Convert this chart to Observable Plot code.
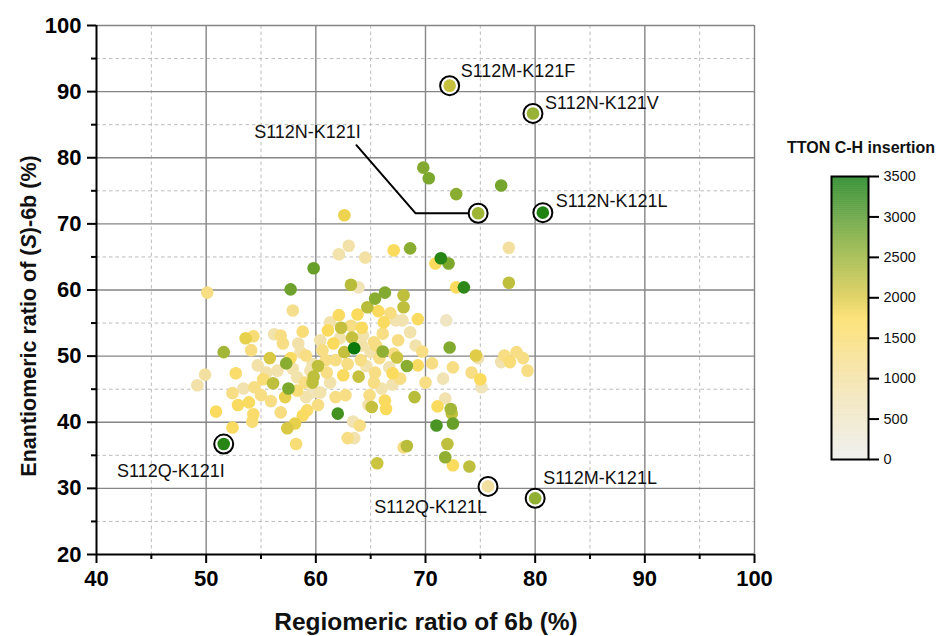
<!DOCTYPE html>
<html><head><meta charset="utf-8">
<script src="https://cdn.jsdelivr.net/npm/d3@7"></script>
<script src="https://cdn.jsdelivr.net/npm/@observablehq/plot@0.6"></script>
<style>
body{margin:0;background:#fff;}
#chart{position:relative;width:939px;height:636px;}
#chart svg{position:absolute;}
</style></head><body><div id="chart"></div>
<script>
// ---- data: regiomeric ratio (%), enantiomeric ratio (%), TTON C-H insertion ----
const regio = [
69.8,70.3,72.8,76.9,62.6,63.0,62.1,64.5,67.1,68.6,
71.4,70.9,72.1,77.6,59.8,57.7,77.6,72.8,73.5,63.2,
63.9,66.3,65.4,68.0,68.0,64.7,50.1,57.9,62.1,63.8,
65.7,66.8,66.2,67.3,67.9,69.3,71.9,61.1,61.3,62.3,
63.2,64.3,63.3,66.1,65.3,61.6,63.5,62.6,66.1,72.2,
69.7,67.4,67.1,65.8,65.0,64.1,61.8,62.9,68.3,69.3,
70.6,72.5,66.7,67.0,63.9,62.5,65.3,67.0,70.0,71.6,
61.3,61.8,69.0,71.8,64.9,66.3,66.4,65.1,64.8,71.1,
72.3,72.4,62.0,63.4,64.0,71.0,72.5,62.9,63.5,68.0,
68.3,72.0,71.8,65.6,72.5,74.0,74.6,74.8,74.2,75.0,
75.1,77.2,76.9,77.7,78.3,78.9,79.3,
53.6,54.3,54.1,51.6,56.2,56.8,57.0,58.8,58.4,58.6,
55.8,52.7,49.9,49.2,55.2,56.1,55.5,56.5,57.3,57.7,
57.9,57.5,58.3,59.7,60.2,59.7,59.8,60.6,52.4,53.4,
54.4,52.9,53.9,55.9,57.2,58.3,59.1,59.7,50.9,54.3,
54.2,59.2,58.8,58.1,57.4,52.4,58.2,59.1,59.5,60.4,
60.9,59.0,60.4,61.0,62.2,64.2,64.6,65.4,67.7,66.0,
60.2,55.0,56.8,62.7,68.6,67.5,69.1,64.2,65.5,54.7
];
const enant = [
78.5,76.9,74.5,75.8,71.3,66.7,65.4,64.9,66.0,66.3,
64.8,64.0,64.0,66.4,63.3,60.1,61.1,60.4,60.4,60.8,
60.4,59.6,58.7,59.2,57.4,57.4,59.6,56.9,56.2,56.3,
56.8,56.5,55.1,55.4,55.4,55.6,55.4,53.9,55.1,54.3,
54.6,53.1,52.8,53.4,52.1,51.9,51.2,50.6,50.7,51.3,
50.7,49.8,50.4,49.7,50.6,49.4,49.4,48.8,48.5,48.6,
48.9,48.3,48.3,47.4,46.9,47.1,46.0,45.7,46.0,46.6,
46.0,43.8,43.8,43.6,44.1,43.3,42.0,42.3,42.6,42.4,
42.0,41.3,41.3,40.1,39.5,39.5,39.8,37.6,37.6,36.2,
36.4,36.7,34.7,33.8,33.5,33.3,50.1,49.7,47.5,46.5,
45.3,50.1,49.1,49.1,50.6,49.7,47.8,
52.7,53.0,50.9,50.6,53.3,53.1,51.9,53.7,51.9,50.6,
49.7,47.4,47.2,45.6,46.5,45.9,47.5,47.8,48.9,49.7,
48.1,45.1,46.8,48.8,48.5,46.0,46.9,50.9,44.4,45.1,
45.3,42.6,43.0,43.2,43.8,44.8,43.8,44.5,41.6,41.2,
40.1,41.8,41.0,39.8,39.1,39.2,36.7,50.1,47.8,52.4,
49.4,46.0,44.5,47.5,52.7,51.6,48.5,47.5,46.6,45.1,
42.6,44.1,41.5,44.1,53.6,52.4,51.6,54.3,51.6,48.6
];
const insertion = [
2650,2700,2600,2750,1850,900,850,950,1700,2600,
3300,1700,2700,1000,2850,2800,2200,1700,3250,2250,
700,2650,2600,2200,2200,2250,1300,1200,1650,1700,
1700,1350,1650,800,800,1650,550,1700,900,2150,
1300,850,2150,1300,1300,1700,3500,2150,2550,2650,
1300,2100,1300,1300,900,1300,1300,1300,2600,1650,
1300,1300,800,1700,2150,1650,1300,800,1300,750,
850,1300,2250,800,1300,1650,1700,2150,850,1700,
2400,2200,3100,750,1300,3050,2850,1300,800,1300,
2250,2200,2550,2100,1700,2200,1950,800,1300,1700,
650,1300,800,1450,1300,1300,1300,
1900,1450,1350,2400,850,1300,1300,1450,900,900,
2000,1550,1000,900,1450,2200,900,850,2600,1650,
850,2700,850,850,2200,2200,2200,1300,1300,800,
1300,1650,1650,1300,1900,1450,850,650,1700,1550,
1450,1550,1650,1900,2000,1650,1450,1300,850,900,
1300,1300,850,1300,850,900,850,1300,1300,850,
1300,1300,1350,1300,850,1300,850,1650,1300,900
];

// highlighted variants
const hlNames = ["S112M-K121F","S112N-K121V","S112N-K121I","S112N-K121L","S112Q-K121I","S112Q-K121L","S112M-K121L"];
const hlRegio = [72.2,79.8,74.8,80.7,51.6,75.7,80.0];
const hlEnant = [90.9,86.7,71.6,71.7,36.7,30.3,28.5];
const hlInsertion = [2150,2500,2450,3350,3300,1000,2550];

// leader line for S112N-K121I (data units)
const leaderRegio = [63.7, 69.1, 74.1];
const leaderEnant = [81.9, 71.6, 71.6];

// ticks
const majorX = [40,50,60,70,80,90,100];
const minorX = [45,55,65,75,85,95];
const majorY = [20,30,40,50,60,70,80,90,100];
const minorY = [25,35,45,55,65,75,85,95];
const colorTicks = [0,500,1000,1500,2000,2500,3000,3500];

// ---- layout / style ----
const labelLayout = {
  "S112M-K121F": {dx: 11, dy: -14, anchor: "start"},
  "S112N-K121V": {dx: 12, dy: -10, anchor: "start"},
  "S112N-K121I": {dx: -224, dy: -81, anchor: "start"},
  "S112N-K121L": {dx: 13, dy: -11, anchor: "start"},
  "S112Q-K121I": {dx: 1, dy: 27, anchor: "end"},
  "S112Q-K121L": {dx: -1, dy: 21, anchor: "end"},
  "S112M-K121L": {dx: 8, dy: -20, anchor: "start"}
};
const rampColors = ["#ECECE9","#EDE9D8","#EFE6C6","#F1E3B4","#F3E0A0","#F6DE8A","#F9DC70","#FBDB58","#D9C843","#B7BD3B","#97B234","#75A52D","#519726","#2D8818","#0B780B"];
const colorScale = () => ({type: "linear", domain: [0, 3500], interpolate: d3.piecewise(d3.interpolateRgb, rampColors)});
const FONT = "'Liberation Sans', Arial, Helvetica, sans-serif";

const points = regio.map((r, i) => ({regio: r, enant: enant[i], insertion: insertion[i]}));
const hl = hlNames.map((n, i) => ({name: n, regio: hlRegio[i], enant: hlEnant[i], insertion: hlInsertion[i]}));
const leader = leaderRegio.map((r, i) => ({regio: r, enant: leaderEnant[i]}));

const labelMarks = hl.map(d => {
  const L = labelLayout[d.name];
  return Plot.text([d], {x: "regio", y: "enant", text: "name", dx: L.dx, dy: L.dy, textAnchor: L.anchor,
    fontSize: 18, fill: "#111", fontFamily: FONT});
});

const svg = Plot.plot({
  width: 939, height: 636,
  marginLeft: 96, marginRight: 185, marginTop: 25, marginBottom: 82,
  style: {background: "white", fontFamily: FONT, color: "black", overflow: "visible"},
  x: {domain: [40, 100], label: null},
  y: {domain: [20, 100], label: null},
  color: colorScale(),
  marks: [
    Plot.gridX({ticks: minorX, stroke: "#bcbcbc", strokeOpacity: 1, strokeWidth: 1, strokeDasharray: "3.5,3"}),
    Plot.gridY({ticks: minorY, stroke: "#bcbcbc", strokeOpacity: 1, strokeWidth: 1, strokeDasharray: "3.5,3"}),
    Plot.gridX({ticks: majorX.slice(1), stroke: "#858585", strokeOpacity: 1, strokeWidth: 1.4}),
    Plot.gridY({ticks: majorY.slice(1), stroke: "#858585", strokeOpacity: 1, strokeWidth: 1.4}),
    Plot.line(leader, {x: "regio", y: "enant", stroke: "black", strokeWidth: 2}),
    Plot.dot(points, {x: "regio", y: "enant", fill: "insertion", r: 6.3, sort: {channel: "fill"}}),
    Plot.dot(hl, {x: "regio", y: "enant", r: 9.5, fill: "white", stroke: "black", strokeWidth: 2}),
    Plot.dot(hl, {x: "regio", y: "enant", r: 6.3, fill: "insertion"}),
    ...labelMarks,
    Plot.axisX({ticks: majorX, tickSize: 9, tickPadding: 7, fontSize: 22, fontWeight: "bold", label: null, strokeWidth: 2, fill: "black"}),
    Plot.axisX({ticks: minorX, tickSize: 5, tickFormat: () => "", label: null, strokeWidth: 2}),
    Plot.axisY({ticks: majorY, tickSize: 9, tickPadding: 6, fontSize: 22, fontWeight: "bold", label: null, strokeWidth: 2, fill: "black"}),
    Plot.axisY({ticks: minorY, tickSize: 5, tickFormat: () => "", label: null, strokeWidth: 2}),
    Plot.ruleX([40], {stroke: "black", strokeWidth: 2}),
    Plot.ruleY([20], {stroke: "black", strokeWidth: 2})
  ]
});

const S = d3.select(svg);
S.append("text").attr("x", 426).attr("y", 630).attr("text-anchor", "middle")
  .attr("font-size", 24.5).attr("font-weight", "bold").attr("font-family", FONT).attr("fill", "#111")
  .text("Regiomeric ratio of 6b (%)");
const yt = S.append("text").attr("transform", "translate(36,316) rotate(-90)").attr("text-anchor", "middle")
  .attr("font-size", 21.5).attr("font-weight", "bold").attr("font-family", FONT).attr("fill", "#111");
yt.append("tspan").text("Enantiomeric ratio of (");
yt.append("tspan").attr("font-style", "italic").text("S");
yt.append("tspan").text(")-6b (%)");
S.append("text").attr("x", 861).attr("y", 153).attr("text-anchor", "middle")
  .attr("font-size", 16).attr("font-weight", "bold").attr("font-family", FONT).attr("fill", "#111")
  .text("TTON C-H insertion");

// colour bar
const rampSteps = d3.range(0, 3500, 5);
const bar = Plot.plot({
  width: 159, height: 350,
  marginLeft: 51, marginRight: 71, marginTop: 46, marginBottom: 21,
  style: {background: "transparent", fontFamily: FONT, color: "black", overflow: "visible"},
  x: {domain: [0, 1], axis: null},
  y: {domain: [0, 3500], axis: null},
  color: colorScale(),
  marks: [
    Plot.rect(rampSteps, {x1: 0, x2: 1, y1: d => d, y2: d => Math.min(3500, d + 6), fill: d => d + 2.5}),
    Plot.frame({stroke: "black", strokeWidth: 2}),
    Plot.axisY({anchor: "right", ticks: colorTicks, tickFormat: d3.format("d"), tickSize: 10, tickPadding: 5, fontSize: 14.5, label: null, strokeWidth: 2, fill: "#111"})
  ]
});

const host = document.getElementById("chart");
svg.style.left = "0px"; svg.style.top = "0px";
host.appendChild(svg);
bar.style.left = "780px"; bar.style.top = "130px";
host.appendChild(bar);
</script>
</body></html>
